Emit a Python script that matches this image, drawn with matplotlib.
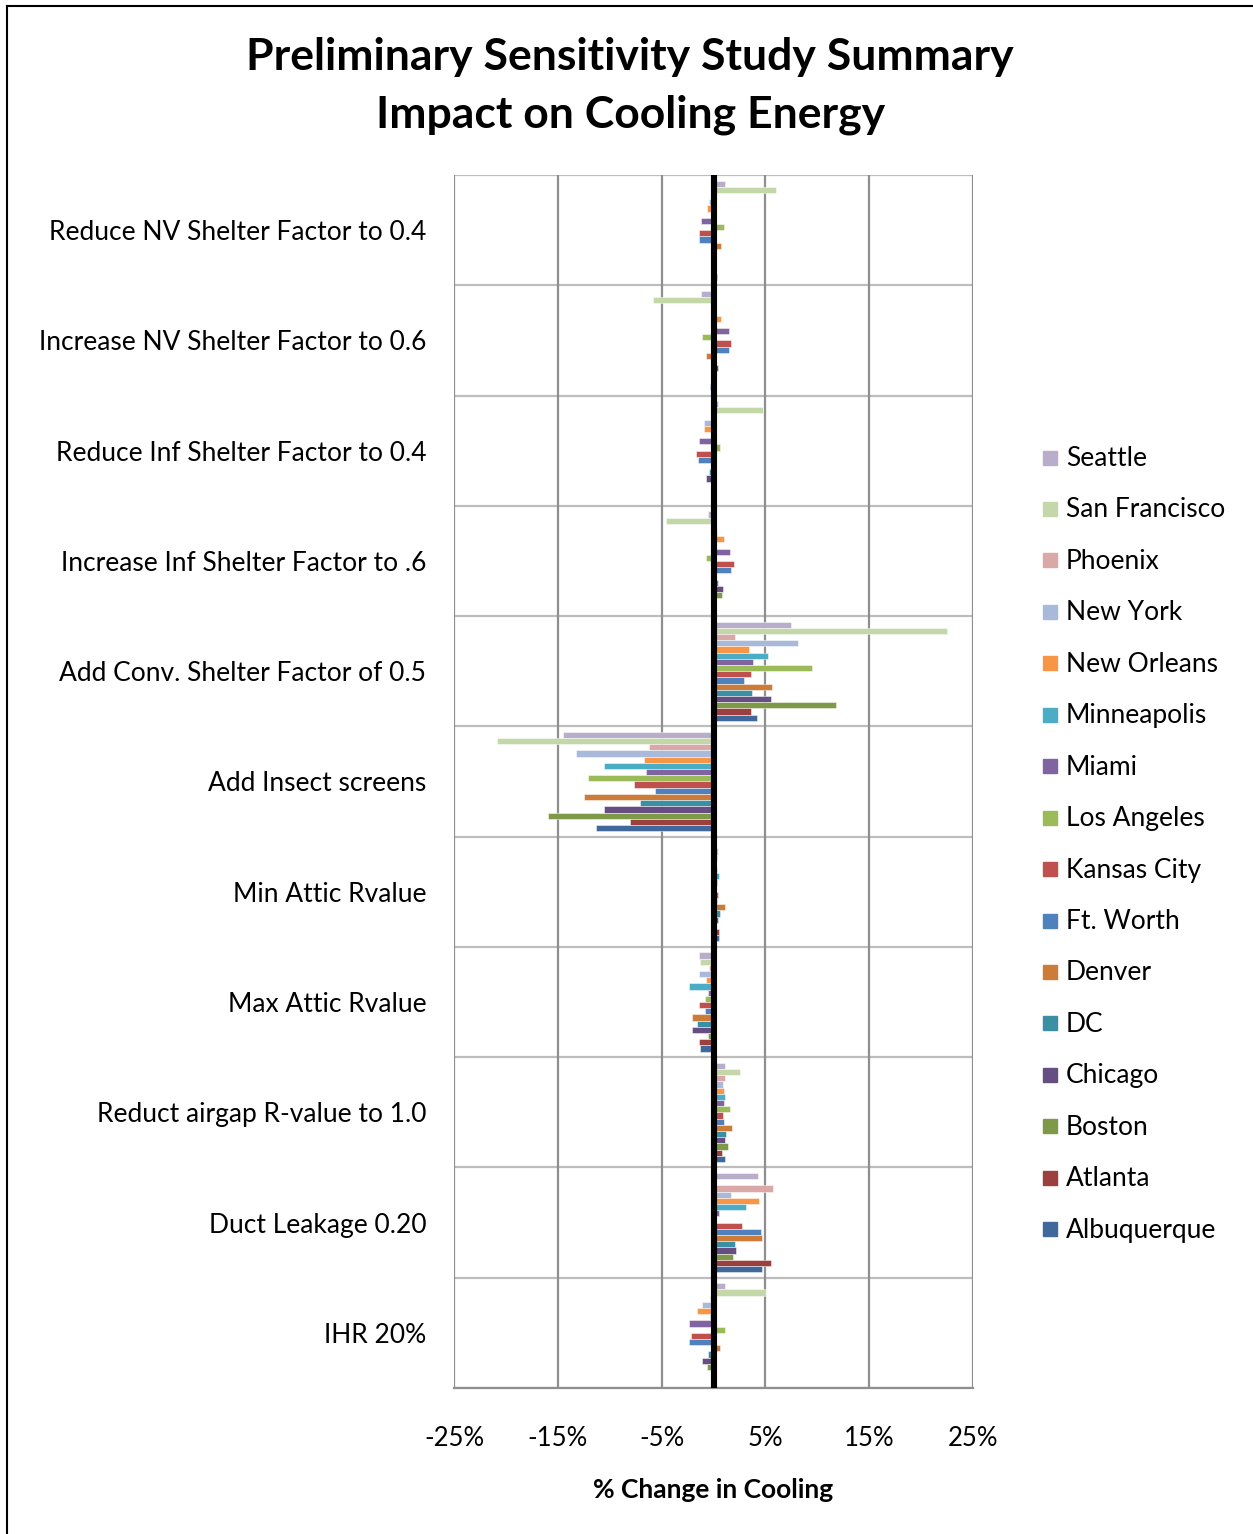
import matplotlib
matplotlib.use("Agg")
import matplotlib.pyplot as plt
from matplotlib.patches import Rectangle
from matplotlib.lines import Line2D
import numpy as np

plt.rcParams['font.family'] = ['Lato', 'DejaVu Sans']

# Sensitivity cases (top to bottom)
cases = [
    "Reduce NV Shelter Factor to 0.4",
    "Increase NV Shelter Factor to 0.6",
    "Reduce Inf Shelter Factor to 0.4",
    "Increase Inf Shelter Factor to .6",
    "Add Conv. Shelter Factor of 0.5",
    "Add Insect screens",
    "Min Attic Rvalue",
    "Max Attic Rvalue",
    "Reduct airgap R-value to 1.0",
    "Duct Leakage 0.20",
    "IHR 20%",
]

cities = ["Seattle", "San Francisco", "Phoenix", "New York", "New Orleans",
          "Minneapolis", "Miami", "Los Angeles", "Kansas City", "Ft. Worth",
          "Denver", "DC", "Chicago", "Boston", "Atlanta", "Albuquerque"]

city_colors = ["#B8ADCB", "#C4D7A8", "#DAA8A7", "#A9B9D9", "#F79646",
               "#4BACC6", "#8064A2", "#9BBB59", "#C0504D", "#4F81BD",
               "#CC7B38", "#3A8FA5", "#664E82", "#7E9A48", "#9C403E",
               "#41689B"]

# % change in cooling energy, one list per case, ordered as `cities`
nv_shelter_04 = [1.1, 6.05, 0.0, -0.45, -0.6, 0.0, -1.2, 1.0, -1.4, -1.35, 0.7, 0.0, 0.0, 0.0, 0.0, 0.3]
nv_shelter_06 = [-1.2, -5.8, 0.0, 0.0, 0.75, 0.0, 1.45, -1.15, 1.7, 1.5, -0.7, 0.0, 0.4, 0.0, 0.0, -0.35]
inf_shelter_04 = [0.45, 4.8, 0.0, -0.9, -0.9, 0.0, -1.4, 0.65, -1.7, -1.5, 0.0, -0.4, -0.75, 0.0, 0.0, 0.0]
inf_shelter_06 = [-0.55, -4.6, 0.0, 0.3, 1.0, 0.0, 1.6, -0.75, 1.95, 1.7, 0.0, 0.4, 0.9, 0.85, 0.0, 0.0]
conv_shelter_05 = [7.5, 22.5, 2.05, 8.1, 3.4, 5.25, 3.8, 9.45, 3.6, 2.9, 5.65, 3.7, 5.55, 11.8, 3.6, 4.2]
insect_screens = [-14.5, -20.9, -6.25, -13.25, -6.7, -10.55, -6.5, -12.1, -7.65, -5.65, -12.45, -7.05, -10.55, -15.9, -8.05, -11.35]
min_attic_r = [0.0, 0.45, 0.35, 0.0, 0.3, 0.5, 0.3, 0.0, 0.4, 0.35, 1.1, 0.65, 0.4, 0.0, 0.55, 0.55]
max_attic_r = [-1.35, -1.3, -0.45, -1.4, -0.7, -2.4, -0.5, -0.8, -1.4, -0.8, -2.05, -1.55, -2.1, -0.5, -1.35, -1.3]
airgap_r10 = [1.1, 2.6, 1.15, 0.9, 1.0, 1.15, 1.0, 1.6, 0.9, 1.0, 1.75, 1.25, 1.1, 1.4, 0.85, 1.1]
duct_leak_020 = [4.3, 0.0, 5.7, 1.7, 4.4, 3.1, 0.55, 0.0, 2.75, 4.6, 4.65, 2.05, 2.15, 1.9, 5.5, 4.65]
ihr_20 = [1.15, 5.0, -0.35, -1.15, -1.55, -0.35, -2.4, 1.1, -2.2, -2.35, 0.6, -0.5, -1.15, -0.6, 0.0, 0.0]

values = np.array([nv_shelter_04, nv_shelter_06, inf_shelter_04, inf_shelter_06,
                   conv_shelter_05, insect_screens, min_attic_r, max_attic_r,
                   airgap_r10, duct_leak_020, ihr_20])

x_ticks = [-25, -15, -5, 5, 15, 25]

W, H = 1253, 1534
fig = plt.figure(figsize=(W / 100, H / 100), dpi=100)
ax = fig.add_axes([454 / W, 1 - 1388 / H, (973 - 454) / W, (1388 - 175) / H])

n_cases = len(cases)
n_cities = len(cities)
bar_h = 0.9 / n_cities
ypos = np.arange(n_cases)

# horizontal separators between cases
for b in np.arange(n_cases + 1) - 0.5:
    ax.axhline(b, color="#BDBDBD", lw=1.6, zorder=1)
for xt in x_ticks:
    ax.axvline(xt, color="#8F8F8F", lw=1.6, zorder=1)

for j, (city, col) in enumerate(zip(cities, city_colors)):
    offs = (j - (n_cities - 1) / 2) * bar_h
    ax.barh(ypos + offs, values[:, j], height=bar_h, color=col,
            edgecolor=(1, 1, 1, 0.55), linewidth=0.6, zorder=2, label=city)

ax.axvline(0, color="black", lw=4.4, zorder=3)

ax.set_xlim(-25, 25)
ax.set_ylim(n_cases - 0.5, -0.5)
for s in ax.spines.values():
    s.set_visible(False)
ax.plot([-25, 25], [n_cases - 0.5] * 2, color="#8F8F8F", lw=1.6, zorder=1, clip_on=False)

ax.set_xticks(x_ticks)
ax.set_xticklabels([f"{t}%" for t in x_ticks])
ax.set_yticks(ypos)
ax.set_yticklabels(cases)
ax.tick_params(axis="x", length=0, pad=27, labelsize=18.5)
ax.tick_params(axis="y", length=0, pad=20, labelsize=19)
ax.set_xlabel("% Change in Cooling", fontsize=19, fontweight="bold", labelpad=20)

fig.text(0.503, 1 - 57 / H, "Preliminary Sensitivity Study Summary",
         ha="center", va="center", fontsize=32, fontweight="bold")
fig.text(0.503, 1 - 115 / H, "Impact on Cooling Energy",
         ha="center", va="center", fontsize=32, fontweight="bold")

# legend column
for j, (city, col) in enumerate(zip(cities, city_colors)):
    yc = 458.5 + j * 51.45
    fig.patches.append(Rectangle((1043 / W, 1 - (yc + 6) / H), 14 / W, 14 / H,
                                 transform=fig.transFigure, color=col))
    fig.text(1066 / W, 1 - yc / H, city, ha="left", va="center", fontsize=19)

# outer frame (top and left edges)
fig.lines.append(Line2D([6.5 / W, 6.5 / W], [0, 1 - 5.5 / H], transform=fig.transFigure,
                        color="black", lw=1.5))
fig.lines.append(Line2D([6.5 / W, 1252 / W], [1 - 5.5 / H, 1 - 5.5 / H], transform=fig.transFigure,
                        color="black", lw=1.5))

fig.savefig("out.png", dpi=100, facecolor="white")
